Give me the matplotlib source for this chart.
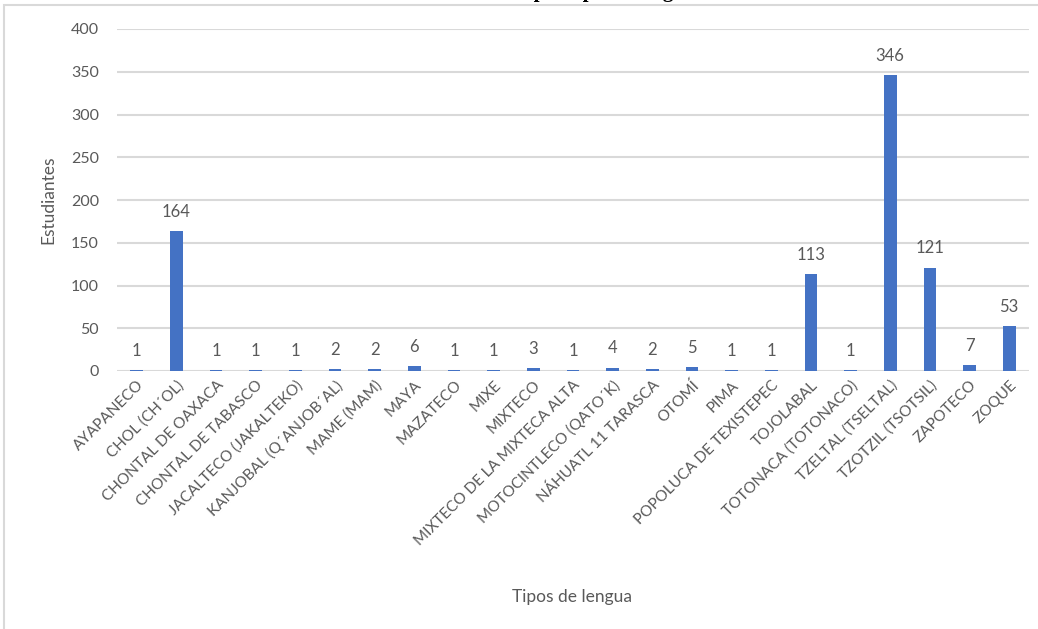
import matplotlib
matplotlib.use("Agg")
import matplotlib.pyplot as plt
from matplotlib.patches import Rectangle

categorias = ["AYAPANECO", "CHOL (CH´OL)", "CHONTAL DE OAXACA", "CHONTAL DE TABASCO",
              "JACALTECO (JAKALTEKO)", "KANJOBAL (Q´ANJOB´AL)", "MAME (MAM)", "MAYA",
              "MAZATECO", "MIXE", "MIXTECO", "MIXTECO DE LA MIXTECA ALTA",
              "MOTOCINTLECO (QATO´K)", "NÁHUATL 11 TARASCA", "OTOMÍ", "PIMA",
              "POPOLUCA DE TEXISTEPEC", "TOJOLABAL", "TOTONACA (TOTONACO)",
              "TZELTAL (TSELTAL)", "TZOTZIL (TSOTSIL)", "ZAPOTECO", "ZOQUE"]
estudiantes = [1, 164, 1, 1, 1, 2, 2, 6, 1, 1, 3, 1, 4, 2, 5, 1, 1, 113, 1, 346, 121, 7, 53]
y_ticks = [0, 50, 100, 150, 200, 250, 300, 350, 400]

plt.rcParams['font.family'] = ['Lato', 'DejaVu Sans']
gray = '#595959'

fig = plt.figure(figsize=(10.38, 6.29), dpi=100)
fig.patches.append(Rectangle((4/1038, -0.1), 1.2, (1 - 5/629) + 0.1, transform=fig.transFigure,
                             fill=False, edgecolor='#d9d9d9', linewidth=1.5, zorder=0))

ax = fig.add_axes([117/1038, 1 - 371/629, (1029 - 117)/1038, (371 - 29)/629])
x = list(range(len(categorias)))
ax.bar(x, estudiantes, width=0.32, color='#4472C4', zorder=3)
ax.set_xlim(-0.5, len(categorias) - 0.5)
ax.set_ylim(0, 400)
ax.set_yticks(y_ticks)
ax.set_yticklabels([str(v) for v in y_ticks], color=gray, fontsize=11.5)
ax.yaxis.grid(True, color='#d9d9d9', linewidth=1.5, zorder=0)
ax.set_axisbelow(True)
for s in ax.spines.values():
    s.set_visible(False)
ax.tick_params(axis='y', length=0, pad=13)
ax.tick_params(axis='x', length=0, pad=5)
ax.set_xticks(x)
ax.set_xticklabels(categorias, rotation=45, ha='right', rotation_mode='anchor',
                   color=gray, fontsize=11)

for xi, v in zip(x, estudiantes):
    ax.annotate(str(v), (xi, v), xytext=(0, 8), textcoords='offset points',
                ha='center', va='bottom', color=gray, fontsize=12)

fig.text(48/1038, 1 - 200/629, 'Estudiantes', rotation=90, ha='center', va='center',
         color=gray, fontsize=12.5)
fig.text(572/1038, 1 - 597/629, 'Tipos de lengua', ha='center', va='center',
         color=gray, fontsize=12.5)
fig.text(560/1038, 1 + 2.5/629, 'Estudiantes por tipo de lengua', ha='center', va='baseline',
         family=['Liberation Serif', 'DejaVu Serif'], fontweight='bold', fontsize=15, color='black')

fig.savefig('out.png', dpi=100)
